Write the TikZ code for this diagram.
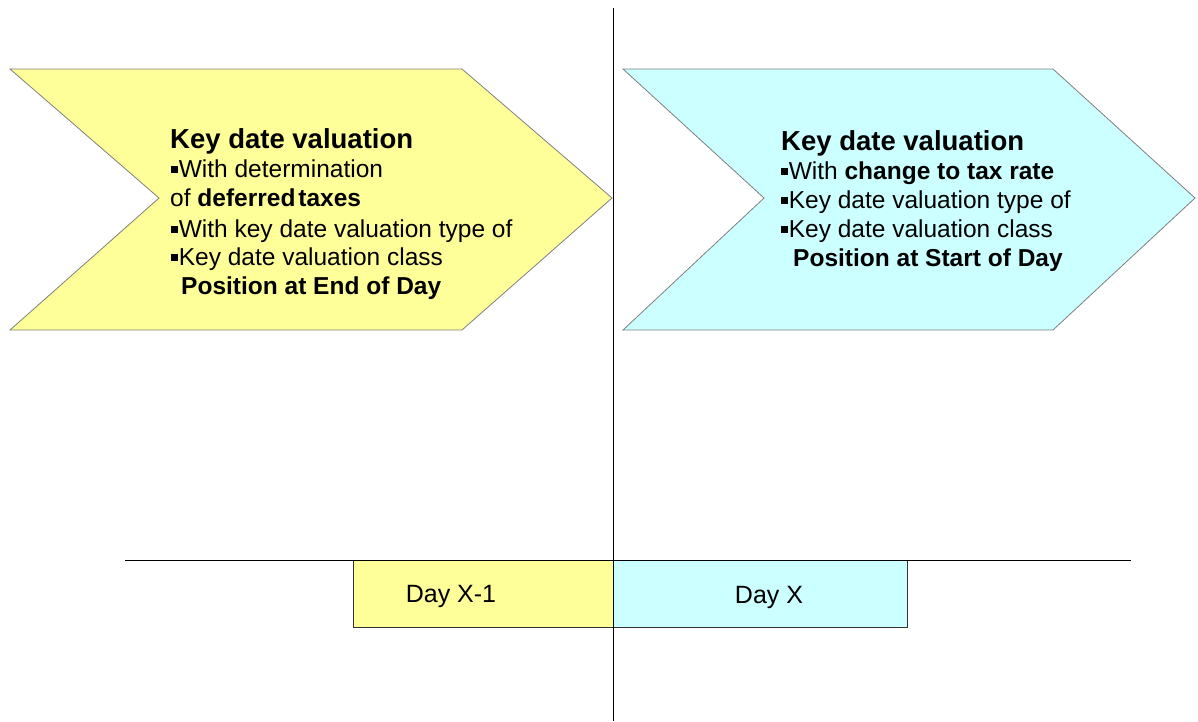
\documentclass[tikz,border=0pt]{standalone}
\usepackage{fontspec}
\setmainfont{Liberation Sans}
\definecolor{chevyellow}{HTML}{FFFF99}
\definecolor{chevcyan}{HTML}{CCFFFF}
\definecolor{chevedge}{HTML}{7F7F7F}
\newcommand{\sqbul}{\rule[0.17em]{0.27em}{0.27em}\hspace{0.04em}}
\tikzset{
  chev/.style={draw=chevedge, line width=0.8pt},
  daybox/.style={draw=black!80, line width=1pt},
  titletxt/.style={anchor=base west, inner sep=0pt, font=\fontsize{27.5}{31}\selectfont\bfseries},
  bodytxt/.style={anchor=base west, inner sep=0pt, font=\fontsize{24.5}{29}\selectfont},
  bodybold/.style={bodytxt, font=\fontsize{24.5}{29}\selectfont\bfseries},
  daytxt/.style={inner sep=0pt, font=\fontsize{25}{28}\selectfont},
  axis/.style={draw=black, line width=1pt}
}
\begin{document}
\begin{tikzpicture}[x=1pt,y=-1pt]
\useasboundingbox (0,0) rectangle (1198,721);
% chevrons
\path[chev, fill=chevyellow] (10,69) -- (462,69) -- (612,198) -- (462,330) -- (10,330) -- (159,198) -- cycle;
\path[chev, fill=chevcyan] (623,69) -- (1053,69) -- (1195,198) -- (1053,330) -- (623,330) -- (764,198) -- cycle;
% day boxes
\node[daybox, fill=chevyellow, minimum width=260pt, minimum height=67pt, inner sep=0pt, anchor=north west] (dl) at (353,560) {};
\node[daybox, fill=chevcyan, minimum width=294pt, minimum height=67pt, inner sep=0pt, anchor=north west] (dr) at (613,560) {};
\node[daytxt] (dltxt) at (451,596) {Day X-1};
\node[daytxt] (drtxt) at (769,597) {Day X};
% axes
\coordinate (vt) at (613,8);
\coordinate (vb) at (613,721);
\coordinate (hl) at (125,560);
\coordinate (hr) at (1131,560);
\draw[axis] (hl) -- (hr);
\draw[axis] (vt) -- (vb);
% left texts
\node[titletxt] (lt) at (170,148) {Key date valuation};
\node[bodytxt] (l1) at (171,177) {\sqbul With determination};
\node[bodytxt] (l2) at (170,206) {of \textbf{deferred\hspace{0.12em}taxes}};
\node[bodytxt] (l3) at (171,237) {\sqbul With key date valuation type of};
\node[bodytxt] (l4) at (171,265) {\sqbul Key date valuation class};
\node[bodybold] (l5) at (181,294) {Position at End of Day};
% right texts
\node[titletxt] (rt) at (781,150) {Key date valuation};
\node[bodytxt] (r1) at (781,179) {\sqbul With \textbf{change to tax rate}};
\node[bodytxt] (r2) at (781,208) {\sqbul Key date valuation type of};
\node[bodytxt] (r3) at (781,237) {\sqbul Key date valuation class};
\node[bodybold] (r4) at (793,266) {Position at Start of Day};
\end{tikzpicture}
\end{document}
